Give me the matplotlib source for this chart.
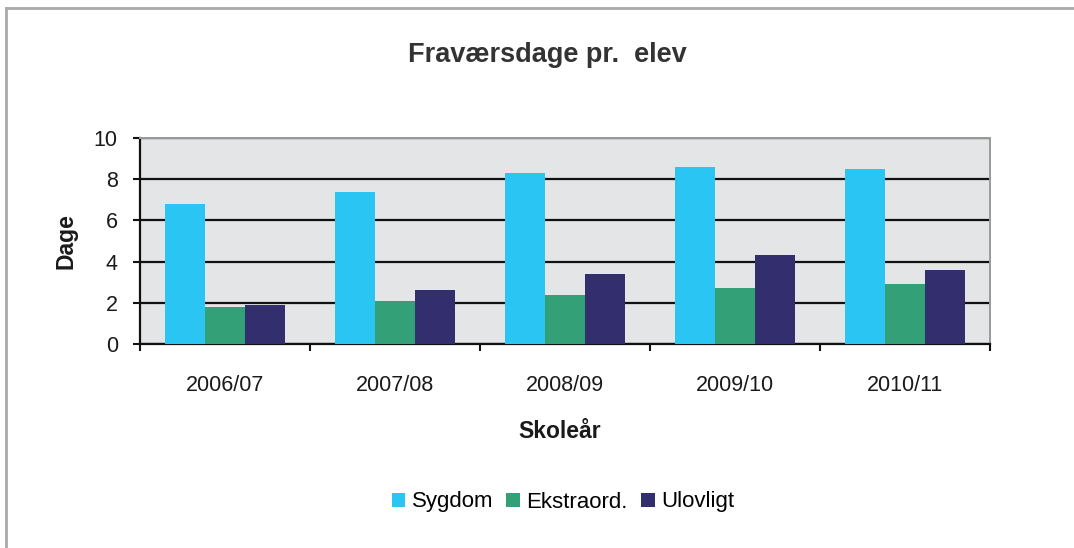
import matplotlib
matplotlib.use("Agg")
import matplotlib.pyplot as plt
import numpy as np
from matplotlib.lines import Line2D

plt.rcParams['font.family'] = ['Liberation Sans', 'DejaVu Sans']

# data
years = ["2006/07", "2007/08", "2008/09", "2009/10", "2010/11"]
sygdom = [6.8, 7.4, 8.3, 8.6, 8.5]
ekstraord = [1.8, 2.1, 2.4, 2.7, 2.9]
ulovligt = [1.9, 2.6, 3.4, 4.3, 3.6]

series_names = ["Sygdom", "Ekstraord.", "Ulovligt"]
colors = ["#2BC5F3", "#33A077", "#332E6E"]

fig = plt.figure(figsize=(10.74, 5.48), dpi=100)
W, H = 1074, 548

# plot area in pixels: x 140..990, y 138..344
ax = fig.add_axes([140 / W, 1 - 344 / H, 850 / W, 206 / H])
ax.set_facecolor("#E4E5E7")

x = np.arange(len(years))
bw = 0.235
for i, (vals, name, col) in enumerate(zip([sygdom, ekstraord, ulovligt],
                                          series_names, colors)):
    ax.bar(x + (i - 1) * bw, vals, width=bw, color=col, label=name,
           zorder=3, linewidth=0)

ax.set_ylim(0, 10)
ax.set_xlim(-0.5, len(years) - 0.5)
ax.set_yticks(range(0, 11, 2))
ax.yaxis.grid(True, color="#111111", linewidth=1.6, zorder=1)
ax.set_axisbelow(True)

ax.set_xticks(x)
ax.set_xticklabels(years)
ax.set_xticks(np.arange(-0.5, len(years)), minor=True)
ax.tick_params(axis="x", which="major", length=0, pad=22, labelsize=15.5,
               labelcolor="#1a1a1a")
ax.tick_params(axis="x", which="minor", length=5, width=1.5, direction="out",
               color="#111111")
ax.tick_params(axis="y", length=5, width=1.5, direction="out", pad=11,
               labelsize=15.5, labelcolor="#1a1a1a", color="#111111")

for side in ("left", "bottom"):
    ax.spines[side].set_color("#111111")
    ax.spines[side].set_linewidth(1.6)
for side in ("top", "right"):
    ax.spines[side].set_color("#9a9a9a")
    ax.spines[side].set_linewidth(1.4)

ax.set_ylabel("Dage", fontsize=16.5, fontweight="bold", labelpad=12,
              color="#1a1a1a")

fig.text(560 / W, 1 - 432 / H, "Skoleår", ha="center", va="center",
         fontsize=16.5, fontweight="bold", color="#1a1a1a")
fig.text(547 / W, 1 - 55 / H, "Fraværsdage pr.  elev", ha="center",
         va="center", fontsize=19.5, fontweight="bold", color="#333333")

handles, labels = ax.get_legend_handles_labels()
fig.legend(handles, labels, loc="center", bbox_to_anchor=(563 / W, 1 - 502 / H),
           ncol=3, frameon=False, fontsize=16, handlelength=0.6,
           handleheight=0.6, handletextpad=0.3, columnspacing=0.6)

# outer chart frame (cut off at right and bottom)
fig.add_artist(Line2D([6 / W, 1], [1 - 8 / H, 1 - 8 / H], color="#aaaaaa",
                      linewidth=2, transform=fig.transFigure))
fig.add_artist(Line2D([6 / W, 6 / W], [0, 1 - 8 / H], color="#aaaaaa",
                      linewidth=2, transform=fig.transFigure))

fig.savefig("out.png", dpi=100)
